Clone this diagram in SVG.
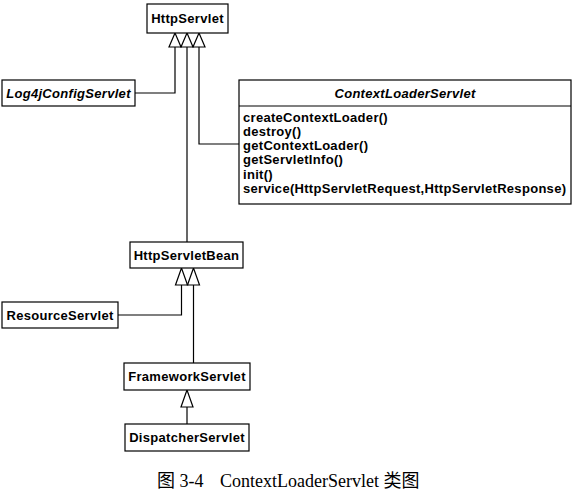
<svg xmlns="http://www.w3.org/2000/svg" width="577" height="494" viewBox="0 0 577 494">
<style>
.box{fill:#fff;stroke:#000;stroke-width:1.2}
.t{font-family:"Liberation Sans",Arial,sans-serif;font-weight:bold;font-size:13px;letter-spacing:0.3px;fill:#000}
.c{text-anchor:middle}
.i{font-style:italic}
.ln{fill:none;stroke:#000;stroke-width:1.2}
.tri{fill:#fff;stroke:#000;stroke-width:1.2}
.cap{font-family:"Liberation Serif","Noto Sans CJK SC",serif;font-size:18px;fill:#000}
</style>
<rect width="577" height="494" fill="#fff"/>
<g id="connectors">
<polyline class="ln" points="135,93 175,93 175,47"/>
<polyline class="ln" points="187,47 187,242"/>
<polyline class="ln" points="199,47 199,144 239,144"/>
<polyline class="ln" points="118,315 181.5,315 181.5,285"/>
<polyline class="ln" points="193.5,285 193.5,363"/>
<polyline class="ln" points="187,407 187,424"/>
<polygon class="tri" points="175,33 169,47 181,47"/>
<polygon class="tri" points="187,33 181,47 193,47"/>
<polygon class="tri" points="199,33 193,47 205,47"/>
<polygon class="tri" points="181.5,268 175.5,285 187.5,285"/>
<polygon class="tri" points="193.5,268 187.5,285 199.5,285"/>
<polygon class="tri" points="187,390 181,407 193,407"/>
</g>
<g id="HttpServlet">
<rect class="box" x="147" y="4" width="81" height="29"/>
<text class="t c" x="187.5" y="23">HttpServlet</text>
</g>
<g id="Log4jConfigServlet">
<rect class="box" x="2" y="80" width="133" height="26"/>
<text class="t c i" x="68.5" y="97.5">Log4jConfigServlet</text>
</g>
<g id="ContextLoaderServlet">
<rect class="box" x="239" y="80" width="332" height="124"/>
<line class="ln" x1="239" y1="106" x2="571" y2="106"/>
<text class="t c i" x="405" y="97.5">ContextLoaderServlet</text>
<text class="t" x="243" y="121.5">createContextLoader()</text>
<text class="t" x="243" y="135.8">destroy()</text>
<text class="t" x="243" y="150.1">getContextLoader()</text>
<text class="t" x="243" y="164.4">getServletInfo()</text>
<text class="t" x="243" y="178.7">init()</text>
<text class="t" x="243" y="193">service(HttpServletRequest,HttpServletResponse)</text>
</g>
<g id="HttpServletBean">
<rect class="box" x="130" y="242" width="113" height="26"/>
<text class="t c" x="186.5" y="259.5">HttpServletBean</text>
</g>
<g id="ResourceServlet">
<rect class="box" x="2" y="302" width="116" height="26"/>
<text class="t c" x="60" y="319.5">ResourceServlet</text>
</g>
<g id="FrameworkServlet">
<rect class="box" x="124" y="363" width="126" height="27"/>
<text class="t c" x="187" y="381">FrameworkServlet</text>
</g>
<g id="DispatcherServlet">
<rect class="box" x="125" y="424" width="124" height="27"/>
<text class="t c" x="187" y="442">DispatcherServlet</text>
</g>
<text class="cap" y="487"><tspan x="157">图 3-4</tspan><tspan x="220">ContextLoaderServlet 类图</tspan></text>
</svg>
